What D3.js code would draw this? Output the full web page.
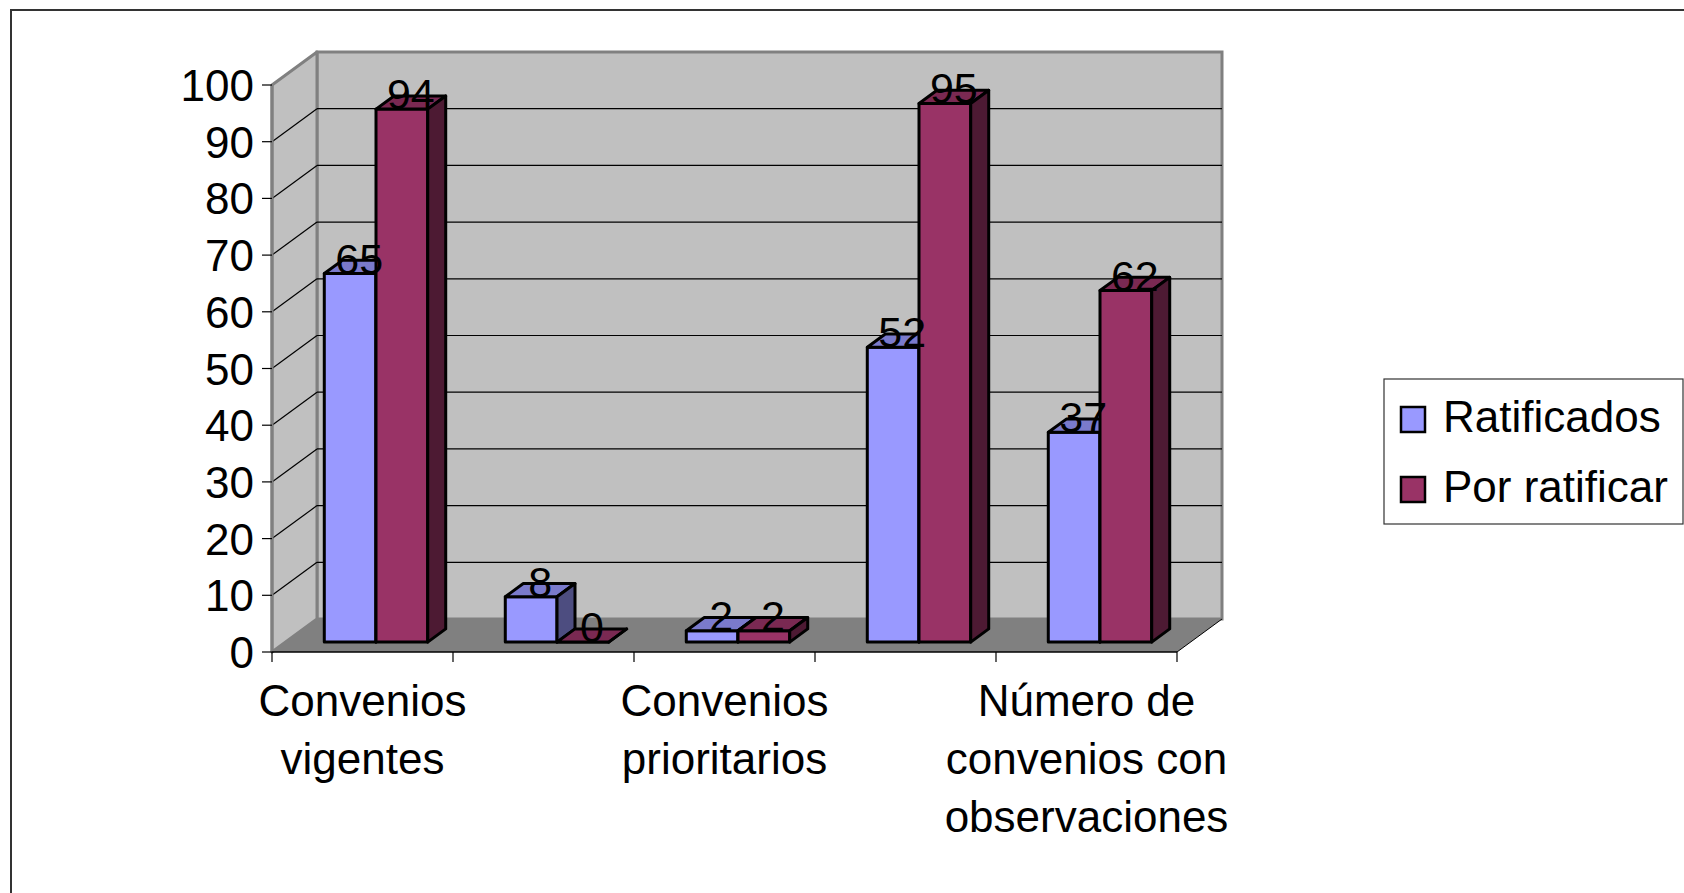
<!DOCTYPE html>
<html>
<head>
<meta charset="utf-8">
<script src="https://cdn.jsdelivr.net/npm/d3@7"></script>
<style>
html,body{margin:0;padding:0;background:#fff;}
svg{display:block;font-family:"Liberation Sans",Arial,sans-serif;}
</style>
</head>
<body>
<svg id="chart" width="1684" height="893"></svg>
<script>
// ---- data ----
const categories = ["Convenios vigentes", "cat2", "Convenios prioritarios", "cat4", "Número de convenios con observaciones"];
// label lines shown on the axis (categories 2 and 4 have no visible label in the reference)
const categoryLabels = [["Convenios", "vigentes"], [], ["Convenios", "prioritarios"], [], ["Número de", "convenios con", "observaciones"]];
const seriesNames = ["Ratificados", "Por ratificar"];
const ratificados = [65, 8, 2, 52, 37];
const porRatificar = [94, 0, 2, 95, 62];
const yTicks = [0, 10, 20, 30, 40, 50, 60, 70, 80, 90, 100];

const seriesValues = [ratificados, porRatificar];
const colors = [
  {front: "#9999ff", top: "#7a7acc", side: "#4d4d80"},
  {front: "#993366", top: "#7a2952", side: "#4d1a33"}
];

const svg = d3.select("#chart");
// outer chart border
svg.append("rect").attr("x", 11).attr("y", 10).attr("width", 1700).attr("height", 900)
  .attr("fill", "none").attr("stroke", "#333").attr("stroke-width", 2);

// plot geometry
const x0 = 272, x1 = 1177, DX = 45, DY = -33;
const y = d3.scaleLinear().domain([0, 100]).range([652, 85]);
const xCat = d3.scaleBand().domain(d3.range(categories.length)).range([x0, x1]).padding(0);
const xSer = d3.scaleBand().domain(d3.range(seriesNames.length)).range([0, xCat.bandwidth()]).paddingInner(0).paddingOuter(0.75);
const f1 = 0.30, f2 = 0.70;

const g = svg.append("g");
const pts = a => a.map(p => p.join(",")).join(" ");

// back wall
g.append("rect").attr("x", x0 + DX).attr("y", y(100) + DY).attr("width", x1 - x0).attr("height", y(0) - y(100))
  .attr("fill", "#c0c0c0").attr("stroke", "#808080").attr("stroke-width", 3);
// side wall
g.append("polygon").attr("points", pts([[x0, y(100)], [x0 + DX, y(100) + DY], [x0 + DX, y(0) + DY], [x0, y(0)]]))
  .attr("fill", "#c0c0c0").attr("stroke", "#808080").attr("stroke-width", 3).attr("stroke-linejoin", "round");
// floor
g.append("polygon").attr("points", pts([[x0, y(0)], [x0 + DX, y(0) + DY], [x1 + DX, y(0) + DY], [x1, y(0)]]))
  .attr("fill", "#808080").attr("stroke", "none");
g.append("line").attr("x1", x1).attr("y1", y(0)).attr("x2", x1 + DX).attr("y2", y(0) + DY)
  .attr("stroke", "#000").attr("stroke-width", 1);

// gridlines
const grid = yTicks.filter(t => t > 0 && t < 100);
g.selectAll("line.gb").data(grid).enter().append("line")
  .attr("x1", x0 + DX).attr("x2", x1 + DX).attr("y1", d => y(d) + DY).attr("y2", d => y(d) + DY)
  .attr("stroke", "#000").attr("stroke-width", 1.2);
g.selectAll("line.gs").data(grid).enter().append("line")
  .attr("x1", x0).attr("x2", x0 + DX).attr("y1", d => y(d)).attr("y2", d => y(d) + DY)
  .attr("stroke", "#000").attr("stroke-width", 1.2);

// y axis
g.append("line").attr("x1", x0).attr("x2", x0).attr("y1", y(100)).attr("y2", y(0))
  .attr("stroke", "#808080").attr("stroke-width", 3);
g.selectAll("line.yt").data(yTicks).enter().append("line")
  .attr("x1", x0 - 10).attr("x2", x0).attr("y1", d => y(d)).attr("y2", d => y(d))
  .attr("stroke", "#000").attr("stroke-width", 1.2);
g.selectAll("text.yl").data(yTicks).enter().append("text")
  .attr("x", x0 - 18).attr("y", d => y(d) + 16).attr("text-anchor", "end")
  .attr("font-size", 44).attr("fill", "#000").text(d => d);

// x axis
g.append("line").attr("x1", x0).attr("x2", x1).attr("y1", y(0)).attr("y2", y(0))
  .attr("stroke", "#000").attr("stroke-width", 1.5);
const catEdges = d3.range(categories.length + 1).map(i => x0 + i * xCat.step());
g.selectAll("line.xt").data(catEdges).enter().append("line")
  .attr("x1", d => d).attr("x2", d => d).attr("y1", y(0)).attr("y2", y(0) + 10)
  .attr("stroke", "#000").attr("stroke-width", 1.2);
categoryLabels.forEach((lines, i) => {
  const cx = xCat(i) + xCat.bandwidth() / 2;
  lines.forEach((ln, j) => {
    g.append("text").attr("x", cx).attr("y", 716 + j * 58).attr("text-anchor", "middle")
      .attr("font-size", 44).attr("fill", "#000").text(ln);
  });
});

// bars
const bars = [];
categories.forEach((c, i) => {
  seriesValues.forEach((vals, s) => {
    bars.push({i, s, v: vals[i]});
  });
});
const ddx1 = f1 * DX, ddy1 = f1 * DY, ddx2 = f2 * DX, ddy2 = f2 * DY;
bars.forEach(b => {
  const bx = xCat(b.i) + xSer(b.s), w = xSer.bandwidth();
  const yv = y(b.v), yb = y(0);
  const col = colors[b.s];
  const bg = g.append("g").attr("stroke", "#000").attr("stroke-width", 3).attr("stroke-linejoin", "round");
  bg.append("polygon").attr("points", pts([[bx + ddx1, yv + ddy1], [bx + w + ddx1, yv + ddy1], [bx + w + ddx1, yb + ddy1], [bx + ddx1, yb + ddy1]]))
    .attr("fill", col.front);
  bg.append("polygon").attr("points", pts([[bx + ddx1, yv + ddy1], [bx + ddx2, yv + ddy2], [bx + w + ddx2, yv + ddy2], [bx + w + ddx1, yv + ddy1]]))
    .attr("fill", col.top);
  bg.append("polygon").attr("points", pts([[bx + w + ddx1, yv + ddy1], [bx + w + ddx2, yv + ddy2], [bx + w + ddx2, yb + ddy2], [bx + w + ddx1, yb + ddy1]]))
    .attr("fill", col.side);
});
// value labels
bars.forEach(b => {
  const bx = xCat(b.i) + xSer(b.s), w = xSer.bandwidth();
  const cx = bx + w / 2 + (ddx1 + ddx2) / 2;
  g.append("text").attr("x", cx).attr("y", y(b.v) + ddy1).attr("text-anchor", "middle")
    .attr("font-size", 43).attr("fill", "#000").text(b.v);
});

// legend
const lg = svg.append("g");
lg.append("rect").attr("x", 1384).attr("y", 379).attr("width", 299).attr("height", 145)
  .attr("fill", "#fff").attr("stroke", "#333").attr("stroke-width", 1.2);
seriesNames.forEach((n, s) => {
  const yy = 407 + s * 70;
  lg.append("rect").attr("x", 1401).attr("y", yy).attr("width", 24).attr("height", 25)
    .attr("fill", colors[s].front).attr("stroke", "#000").attr("stroke-width", 2.5);
  lg.append("text").attr("x", 1443).attr("y", yy + 25).attr("font-size", 44).attr("fill", "#000").text(n);
});
</script>
</body>
</html>
